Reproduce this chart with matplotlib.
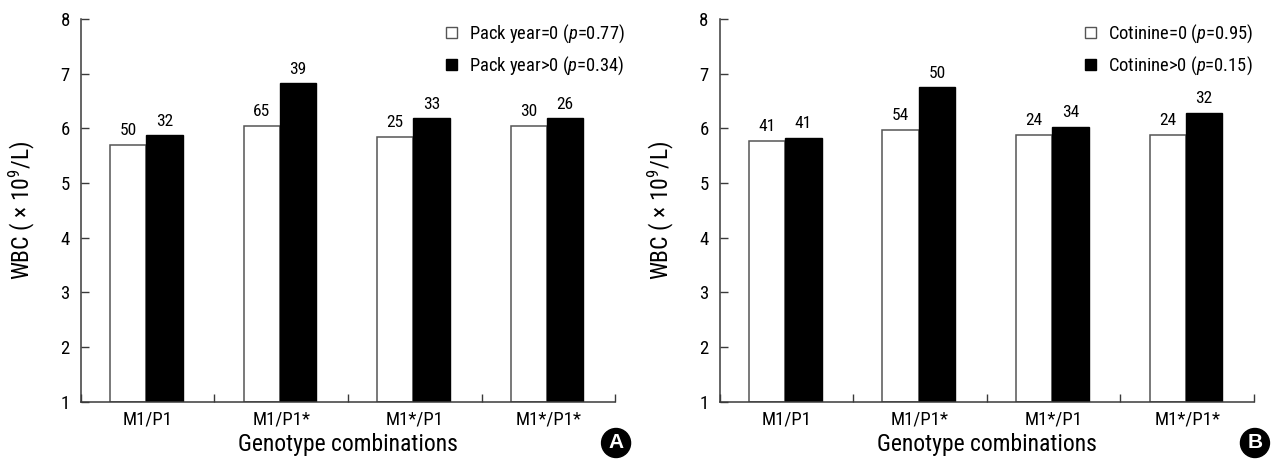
import matplotlib
matplotlib.use("Agg")
import matplotlib.pyplot as plt
from matplotlib.patches import Patch, Circle
from matplotlib import font_manager

names = {f.name for f in font_manager.fontManager.ttflist}
FONT = next((n for n in ["Roboto Condensed", "Archivo Narrow", "PT Sans Narrow", "Liberation Sans"]
             if n in names), "DejaVu Sans")
plt.rcParams['font.family'] = [FONT, 'DejaVu Sans']
plt.rcParams['mathtext.fontset'] = 'custom'
plt.rcParams['mathtext.rm'] = FONT
plt.rcParams['mathtext.it'] = FONT + ':italic'

categories = ["M1/P1", "M1/P1*", "M1*/P1", "M1*/P1*"]

# Panel A: Pack year
a_zero = [5.70, 6.05, 5.84, 6.05]
a_pos = [5.87, 6.82, 6.18, 6.18]
a_zero_n = [50, 65, 25, 30]
a_pos_n = [32, 39, 33, 26]
a_labels = [r"Pack year=0 ($\mathit{p}$=0.77)", r"Pack year>0 ($\mathit{p}$=0.34)"]

# Panel B: Cotinine
b_zero = [5.77, 5.97, 5.88, 5.88]
b_pos = [5.83, 6.75, 6.03, 6.28]
b_zero_n = [41, 54, 24, 24]
b_pos_n = [41, 50, 34, 32]
b_labels = [r"Cotinine=0 ($\mathit{p}$=0.95)", r"Cotinine>0 ($\mathit{p}$=0.15)"]

yticks = [1, 2, 3, 4, 5, 6, 7, 8]

fig = plt.figure(figsize=(12.75, 4.63), dpi=100)
axA = fig.add_axes([0.0635, 0.1324, 0.4189, 0.8266])
axB = fig.add_axes([0.5645, 0.1324, 0.4190, 0.8266])

W = 0.272
SPINE = '#3a3a3a'
WEDGE = '#555555'

def panel(ax, zero, pos, zn, pn, labels, letter):
    x = list(range(len(categories)))
    xw = [i - 0.146 for i in x]
    xb = [i + 0.126 for i in x]
    ax.bar(xw, [v - 1 for v in zero], bottom=1, width=W, color='white',
           edgecolor=WEDGE, linewidth=1.1)
    ax.bar(xb, [v - 1 for v in pos], bottom=1, width=W, color='black',
           edgecolor='black', linewidth=1.0)
    for xi, v, n in zip(xw, zero, zn):
        ax.annotate(str(n), (xi, v), xytext=(0, 7), textcoords='offset points',
                    ha='center', va='baseline', fontsize=12.5)
    for xi, v, n in zip(xb, pos, pn):
        ax.annotate(str(n), (xi, v), xytext=(0, 7), textcoords='offset points',
                    ha='center', va='baseline', fontsize=12.5)
    ax.set_xlim(-0.5, 3.5)
    ax.set_ylim(1, 8)
    ax.set_yticks(yticks)
    ax.set_yticklabels([str(t) for t in yticks], fontsize=13.5)
    ax.set_xticks([i + 0.5 for i in range(-1, 4)])
    ax.set_xticklabels([])
    ax.set_xticks(x, minor=True)
    ax.set_xticklabels(categories, minor=True, fontsize=13.5)
    ax.tick_params(axis='x', which='minor', length=0, pad=6.5)
    ax.tick_params(axis='x', which='major', direction='in', length=6, color=SPINE, width=1.0)
    ax.tick_params(axis='y', direction='in', length=6, color=SPINE, width=1.0, pad=8)
    for s in ['top', 'right']:
        ax.spines[s].set_visible(False)
    for s in ['left', 'bottom']:
        ax.spines[s].set_color(SPINE)
        ax.spines[s].set_linewidth(1.1)
    ax.set_xlabel("Genotype combinations", fontsize=17, labelpad=3)
    ax.set_ylabel("WBC ( \u00d7 10$^{9}$/L)", fontsize=17, labelpad=17)
    handles = [Patch(facecolor='white', edgecolor=WEDGE, linewidth=1.0),
               Patch(facecolor='black', edgecolor='black', linewidth=1.0)]
    ax.legend(handles, labels, loc='upper left', bbox_to_anchor=(0.684, 0.99),
              frameon=False, fontsize=13.3, handlelength=0.58, handleheight=0.58,
              handletextpad=0.65, labelspacing=0.5, borderpad=0, borderaxespad=0)
    # panel letter badge at the lower right
    pos_ax = ax.get_position()
    cx_px = pos_ax.x1 * 1275 + 1
    cy_px = 20
    fig.patches.append(Circle((cx_px, cy_px), 14.5, transform=None,
                              facecolor='black', edgecolor='black'))
    fig.text(cx_px / 1275, cy_px / 463, letter, ha='center', va='center', color='white',
             fontsize=15, fontweight='bold', family=['Liberation Sans', 'DejaVu Sans'])

panel(axA, a_zero, a_pos, a_zero_n, a_pos_n, a_labels, "A")
panel(axB, b_zero, b_pos, b_zero_n, b_pos_n, b_labels, "B")

fig.savefig("out.png", dpi=100)
